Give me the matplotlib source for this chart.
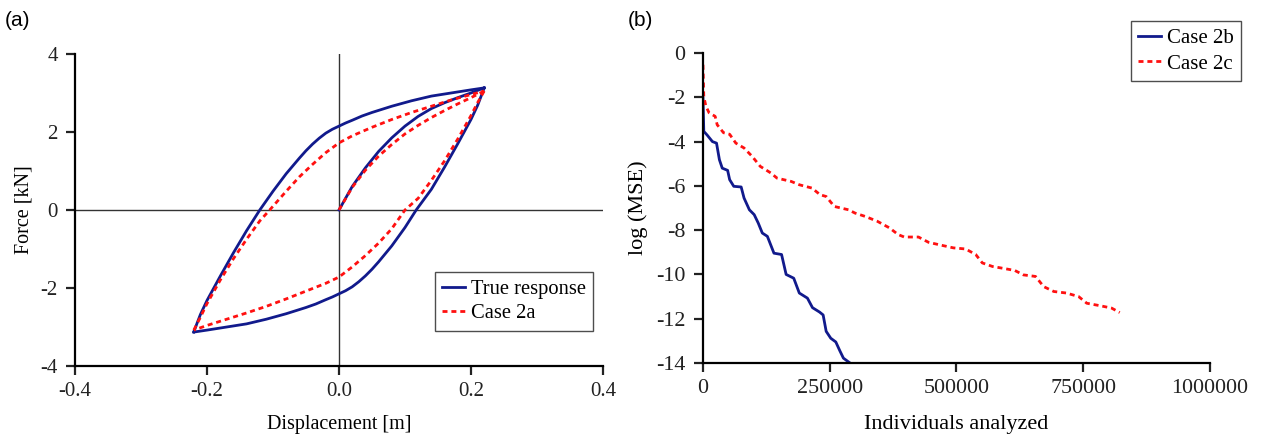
import matplotlib.pyplot as plt

# (a) hysteresis loops: displacement [m] / force [kN]
true_virgin_x = [0.0, 0.01, 0.02, 0.04, 0.06, 0.08, 0.10, 0.12, 0.14, 0.16, 0.18, 0.20, 0.22]
true_virgin_f = [0.0, 0.30, 0.60, 1.08, 1.50, 1.85, 2.15, 2.40, 2.60, 2.75, 2.88, 3.00, 3.13]

true_load_x = [-0.22, -0.215, -0.21, -0.20, -0.18, -0.16, -0.14, -0.12, -0.10, -0.08, -0.06,
               -0.05, -0.04, -0.03, -0.02, -0.01, 0.0, 0.01, 0.02, 0.035, 0.05, 0.065, 0.08,
               0.11, 0.14, 0.17, 0.20, 0.22]
true_load_f = [-3.13, -2.90, -2.68, -2.32, -1.70, -1.10, -0.53, 0.0, 0.48, 0.93, 1.33,
               1.52, 1.69, 1.84, 1.97, 2.07, 2.15, 2.23, 2.30, 2.41, 2.50, 2.58, 2.66,
               2.80, 2.92, 3.00, 3.08, 3.13]

true_unload_x = [0.22, 0.215, 0.21, 0.20, 0.18, 0.16, 0.14, 0.117, 0.10, 0.08, 0.06,
                 0.05, 0.04, 0.03, 0.02, 0.01, 0.0, -0.01, -0.02, -0.035, -0.05, -0.065, -0.08,
                 -0.11, -0.14, -0.17, -0.20, -0.22]
true_unload_f = [3.13, 2.90, 2.68, 2.32, 1.70, 1.10, 0.53, 0.0, -0.45, -0.92, -1.33,
                 -1.52, -1.69, -1.84, -1.97, -2.07, -2.15, -2.23, -2.30, -2.41, -2.50, -2.58, -2.66,
                 -2.80, -2.92, -3.00, -3.08, -3.13]

case2a_virgin_x = [0.0, 0.02, 0.04, 0.06, 0.08, 0.10, 0.12, 0.14, 0.16, 0.18, 0.20, 0.22]
case2a_virgin_f = [0.0, 0.58, 1.02, 1.38, 1.68, 1.95, 2.17, 2.37, 2.55, 2.72, 2.88, 3.05]

case2a_load_x = [-0.22, -0.21, -0.20, -0.18, -0.16, -0.14, -0.12, -0.105, -0.08, -0.06, -0.04,
                 -0.02, 0.0, 0.02, 0.05, 0.08, 0.11, 0.14, 0.17, 0.20, 0.22]
case2a_load_f = [-3.08, -2.75, -2.40, -1.80, -1.25, -0.75, -0.28, 0.0, 0.48, 0.85, 1.17,
                 1.47, 1.72, 1.90, 2.12, 2.32, 2.50, 2.66, 2.82, 2.96, 3.05]

case2a_unload_x = [0.22, 0.21, 0.20, 0.18, 0.16, 0.14, 0.12, 0.10, 0.08, 0.06, 0.04,
                   0.02, 0.0, -0.02, -0.05, -0.08, -0.11, -0.14, -0.17, -0.20, -0.22]
case2a_unload_f = [3.05, 2.75, 2.42, 1.82, 1.26, 0.76, 0.30, 0.0, -0.48, -0.85, -1.17,
                   -1.46, -1.72, -1.88, -2.08, -2.28, -2.47, -2.64, -2.80, -2.96, -3.08]

# (b) convergence histories
case2b_n = [0, 1600, 8000, 18600, 26700, 32400, 38000, 48600, 52600, 60700, 75300, 81000,
            91500, 101000, 109000, 117000, 127000, 140000, 155000, 164000, 179000, 190000,
            206000, 216000, 230000, 237000, 243000, 252000, 262000, 270000, 277000, 290000]
case2b_mse = [-2.03, -3.54, -3.70, -4.00, -4.07, -4.82, -5.20, -5.30, -5.72, -6.02, -6.05, -6.55,
              -7.08, -7.30, -7.68, -8.13, -8.28, -9.04, -9.10, -10.0, -10.17, -10.84,
              -11.07, -11.50, -11.70, -11.83, -12.57, -12.88, -13.05, -13.45, -13.78, -14.0]

case2c_n = [0, 1600, 5700, 12000, 24000, 28000, 40500, 52600, 64800, 81000, 97000, 113000,
            134000, 146000, 174000, 190000, 215000, 231000, 243000, 259000, 287000, 300000,
            320000, 344000, 368000, 385000, 397000, 425000, 445000, 474000, 494000, 518000,
            538000, 551000, 571000, 591000, 615000, 632000, 656000, 672000, 692000, 717000,
            741000, 757000, 785000, 806000, 822000]
case2c_mse = [-0.53, -1.96, -2.40, -2.70, -2.86, -3.24, -3.60, -3.67, -4.07, -4.29, -4.67, -5.12,
              -5.42, -5.65, -5.80, -5.95, -6.10, -6.40, -6.48, -6.93, -7.08, -7.23,
              -7.38, -7.60, -7.90, -8.20, -8.31, -8.31, -8.55, -8.70, -8.80, -8.85,
              -9.10, -9.48, -9.64, -9.72, -9.82, -10.02, -10.09, -10.55, -10.77, -10.84,
              -11.0, -11.30, -11.42, -11.52, -11.72]

BLUE = "#111a8c"
RED = "#ff1010"
DASH = (0, (1.8, 1.4))
TXT = "#222222"

plt.rcParams["font.family"] = ["Liberation Serif", "DejaVu Serif"]
plt.rcParams["axes.linewidth"] = 1.6
plt.rcParams["xtick.major.width"] = 1.6
plt.rcParams["ytick.major.width"] = 1.6
plt.rcParams["xtick.major.size"] = 6.5
plt.rcParams["ytick.major.size"] = 6.5

fig = plt.figure(figsize=(12.63, 4.37), dpi=100)
ax1 = fig.add_axes([0.0594, 0.1625, 0.418, 0.714])
ax2 = fig.add_axes([0.5566, 0.1693, 0.4014, 0.7094])


def style_axes(ax, size):
    ax.spines["top"].set_visible(False)
    ax.spines["right"].set_visible(False)
    ax.tick_params(axis="x", labelsize=size, colors=TXT, pad=5)
    ax.tick_params(axis="y", labelsize=size, colors=TXT, pad=6)


def add_legend(ax, anchor, size, spacing):
    leg = ax.legend(loc="upper left", bbox_to_anchor=anchor, borderaxespad=0,
                    fontsize=size, frameon=True, fancybox=False, handlelength=1.1,
                    handletextpad=0.3, borderpad=0.35, labelspacing=spacing)
    leg.get_frame().set_edgecolor(TXT)
    leg.get_frame().set_linewidth(1.0)
    return leg


# --- (a) ---
ax1.axhline(0, color="#333333", lw=1.0, zorder=1)
ax1.axvline(0, color="#333333", lw=1.0, zorder=1)
ax1.plot(true_virgin_x, true_virgin_f, color=BLUE, lw=2, zorder=2)
ax1.plot(true_load_x, true_load_f, color=BLUE, lw=2, zorder=2, label="True response")
ax1.plot(true_unload_x, true_unload_f, color=BLUE, lw=2, zorder=2)
ax1.plot(case2a_virgin_x, case2a_virgin_f, color=RED, lw=2, ls=DASH, zorder=3)
ax1.plot(case2a_load_x, case2a_load_f, color=RED, lw=2, ls=DASH, zorder=3, label="Case 2a")
ax1.plot(case2a_unload_x, case2a_unload_f, color=RED, lw=2, ls=DASH, zorder=3)
ax1.set_xlim(-0.4, 0.4)
ax1.set_ylim(-4, 4)
ax1.set_xticks([-0.4, -0.2, 0.0, 0.2, 0.4])
ax1.set_xticklabels(["-0.4", "-0.2", "0.0", "0.2", "0.4"])
ax1.set_yticks([-4, -2, 0, 2, 4])
ax1.set_yticklabels(["-4", "-2", "0", "2", "4"])
ax1.set_xlabel("Displacement [m]", fontsize=14.5, labelpad=10)
ax1.set_ylabel("Force [kN]", fontsize=14.5, labelpad=5)
style_axes(ax1, 15)
add_legend(ax1, (0.682, 0.30), 14.8, 0.25)

# --- (b) ---
ax2.plot(case2b_n, case2b_mse, color=BLUE, lw=2, label="Case 2b")
ax2.plot(case2c_n, case2c_mse, color=RED, lw=2, ls=DASH, label="Case 2c")
ax2.set_xlim(0, 1000000)
ax2.set_ylim(-14, 0)
ax2.set_xticks([0, 250000, 500000, 750000, 1000000])
ax2.set_xticklabels(["0", "250000", "500000", "750000", "1000000"])
ax2.set_yticks(range(-14, 1, 2))
ax2.set_yticklabels([str(v) for v in range(-14, 1, 2)])
ax2.set_xlabel("Individuals analyzed", fontsize=16, labelpad=12)
ax2.set_ylabel("log (MSE)", fontsize=16, labelpad=6)
style_axes(ax2, 15.8)
add_legend(ax2, (0.844, 1.103), 15, 0.3)

fig.text(0.004, 0.952, "(a)", fontsize=15, family=["Liberation Sans", "DejaVu Sans"], va="center")
fig.text(0.497, 0.952, "(b)", fontsize=15, family=["Liberation Sans", "DejaVu Sans"], va="center")

fig.savefig("out.png", dpi=100)
